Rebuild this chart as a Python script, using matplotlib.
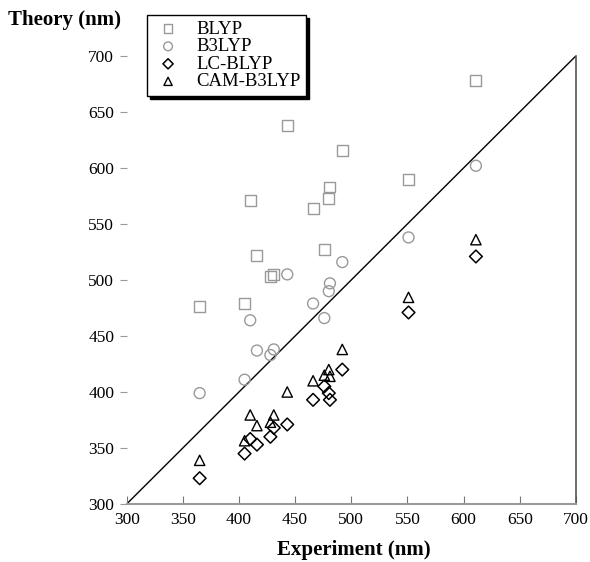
import numpy as np
import matplotlib
matplotlib.use("Agg")
import matplotlib.pyplot as plt

plt.rcParams['font.family'] = ['Liberation Serif', 'DejaVu Serif']

# experimental wavelengths (nm), same molecules for every functional
experiment = [365, 405, 410, 416, 428, 431, 443, 466, 476, 480, 481, 492, 551, 611]

blyp = [476, 479, 571, 522, 503, 505, 638, 564, 527, 573, 583, 616, 590, 678]
b3lyp = [399, 411, 464, 437, 433, 438, 505, 479, 466, 490, 497, 516, 538, 602]
lc_blyp = [323, 345, 358, 353, 360, 368, 371, 393, 405, 399, 393, 420, 471, 521]
cam_b3lyp = [339, 356.5, 379.5, 370, 373, 379.5, 400, 410, 415, 420, 414, 438, 484.5, 536]

ticks = [300, 350, 400, 450, 500, 550, 600, 650, 700]

fig = plt.figure(figsize=(5.9, 5.62), dpi=100)
ax = fig.add_axes([0.2147, 0.1032, 0.7613, 0.7972])

ax.plot([300, 700], [300, 700], color='black', lw=1.0, zorder=1)

ax.scatter(experiment, blyp, marker='s', s=62, facecolors='none',
           edgecolors='#999999', linewidths=1.0, label='BLYP', zorder=3)
ax.scatter(experiment, b3lyp, marker='o', s=62, facecolors='none',
           edgecolors='#999999', linewidths=1.0, label='B3LYP', zorder=3)
ax.scatter(experiment, lc_blyp, marker='D', s=42, facecolors='none',
           edgecolors='black', linewidths=1.1, label='LC-BLYP', zorder=3)
ax.scatter(experiment, cam_b3lyp, marker='^', s=55, facecolors='none',
           edgecolors='black', linewidths=1.0, label='CAM-B3LYP', zorder=3)

ax.set_xlim(300, 700)
ax.set_ylim(300, 700)
ax.set_xticks(ticks)
ax.set_yticks(ticks)

ax.spines['top'].set_visible(False)
ax.spines['left'].set_visible(False)
ax.spines['bottom'].set_color('#999999')
ax.spines['bottom'].set_linewidth(1.5)
ax.spines['right'].set_color('#555555')
ax.spines['right'].set_linewidth(1.2)

ax.tick_params(axis='x', direction='in', length=6, color='#777777', labelsize=12.5, pad=6)
ax.tick_params(axis='y', direction='out', length=5, color='#999999', labelsize=12.5, pad=4)

fig.text(0.11, 0.965, 'Theory (nm)', fontsize=15, fontweight='bold',
         ha='center', va='center')
fig.text(0.60, 0.022, 'Experiment (nm)', fontsize=15, fontweight='bold',
         ha='center', va='center')

leg = fig.legend(loc='upper left', bbox_to_anchor=(0.234, 0.99), fontsize=13.5,
                 frameon=True, fancybox=False, shadow={'color': 'black', 'alpha': 1},
                 edgecolor='black', framealpha=1, borderpad=0.3, labelspacing=0.02,
                 handletextpad=0.7, handlelength=1.6, markerscale=0.8)
leg.get_frame().set_linewidth(1.0)

fig.savefig('out.png', dpi=100)
